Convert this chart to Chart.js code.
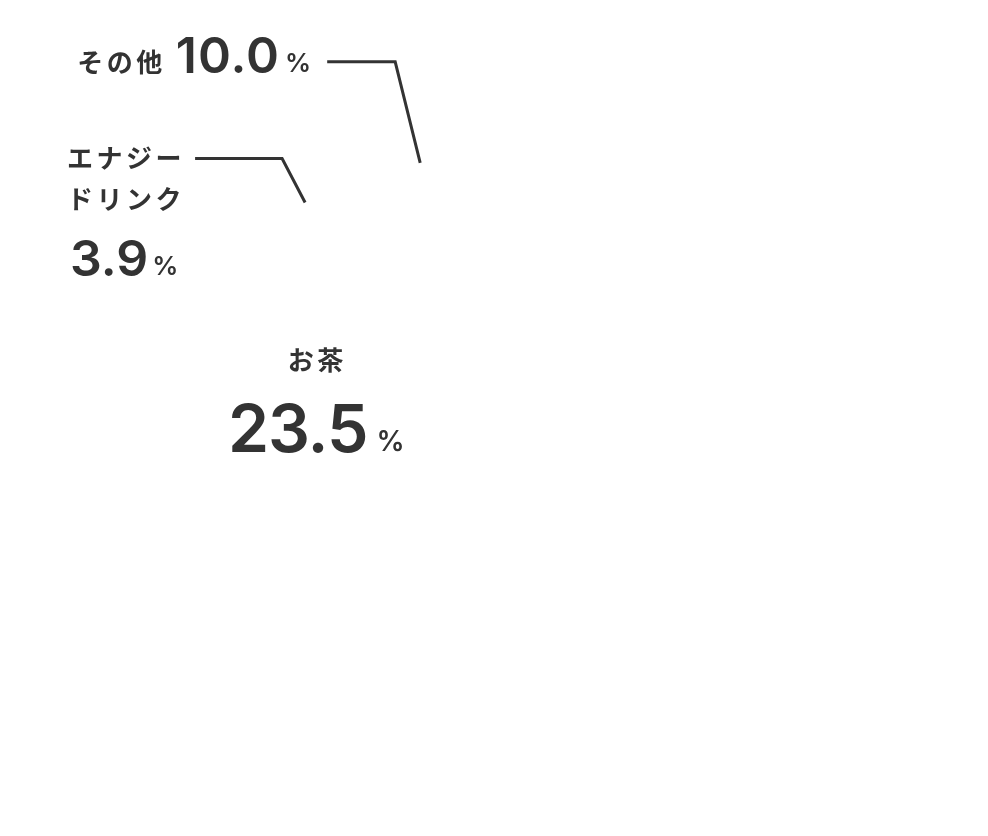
<!DOCTYPE html>
<html lang="ja">
<head>
<meta charset="utf-8">
<script src="https://cdn.jsdelivr.net/npm/chart.js@4.4.1/dist/chart.umd.min.js"></script>
<style>
  html, body { margin: 0; padding: 0; background: #fff; }
  #wrap { width: 988px; height: 836px; }
</style>
</head>
<body>
<div id="wrap"><canvas id="drinkChart" width="988" height="836"></canvas></div>
<script>
// 飲料の構成比 (%) - only the three callout slices are labelled in the picture
const categories = ['', 'お茶', 'エナジードリンク', 'その他']
const shares = [62.6, 23.5, 3.9, 10.0]
const labelLines = [[], ['お茶'], ['エナジー', 'ドリンク'], ['その他']]

const INK = '#333333'
const JP_FONT = '"Noto Sans CJK JP", "Noto Sans", sans-serif'
const NUM_FONT = 'Inter, "Noto Sans", sans-serif'
const JP_SPACING = 3.5

// callout layout per slice index (pixels, measured from the slice's outer mid point)
const callouts = {
  1: { kind: 'inside', at: 0.5, numSize: 66, pctSize: 28, gap: 8, spacing: -1 },
  2: { kind: 'stacked', elbow: [-23, -44], run: 87, numSize: 50, pctSize: 26, gap: 4, spacing: 0 },
  3: { kind: 'inline', elbow: [-25, -101], run: 68, numSize: 50, pctSize: 26, gap: 6, spacing: 1 },
}

function jpText(ctx, text, x, y, align) {
  ctx.font = `700 26px ${JP_FONT}`
  ctx.letterSpacing = JP_SPACING + 'px'
  ctx.textAlign = align
  ctx.textBaseline = 'middle'
  ctx.fillText(text, x, y)
  ctx.letterSpacing = '0px'
}

function jpWidth(ctx, text) {
  ctx.font = `700 26px ${JP_FONT}`
  ctx.letterSpacing = JP_SPACING + 'px'
  const w = ctx.measureText(text).width
  ctx.letterSpacing = '0px'
  return w
}

function valueWidth(ctx, num, c) {
  ctx.font = `600 ${c.numSize}px ${NUM_FONT}`
  ctx.letterSpacing = c.spacing + 'px'
  const w1 = ctx.measureText(num).width - c.spacing
  ctx.font = `600 ${c.pctSize}px ${NUM_FONT}`
  ctx.letterSpacing = '0px'
  const w2 = ctx.measureText('%').width
  return { w1, w2, total: w1 + c.gap + w2 }
}

// number + small "%" drawn from a left edge on one baseline
function drawValue(ctx, num, left, baseline, c) {
  const m = valueWidth(ctx, num, c)
  ctx.textAlign = 'left'
  ctx.textBaseline = 'alphabetic'
  ctx.font = `600 ${c.numSize}px ${NUM_FONT}`
  ctx.letterSpacing = c.spacing + 'px'
  ctx.fillText(num, left, baseline)
  ctx.letterSpacing = '0px'
  ctx.font = `600 ${c.pctSize}px ${NUM_FONT}`
  ctx.fillText('%', left + m.w1 + c.gap, baseline - 1)
  return m
}

const calloutPlugin = {
  id: 'callouts',
  afterDatasetsDraw(chart) {
    const { ctx } = chart
    const meta = chart.getDatasetMeta(0)
    ctx.save()
    ctx.fillStyle = INK
    ctx.strokeStyle = INK
    ctx.lineWidth = 3
    meta.data.forEach((arc, i) => {
      const c = callouts[i]
      if (!c) return
      const p = arc.getProps(['x', 'y', 'startAngle', 'endAngle', 'outerRadius'], true)
      const mid = (p.startAngle + p.endAngle) / 2
      const num = shares[i].toFixed(1)

      if (c.kind === 'inside') {
        const ax = p.x + Math.cos(mid) * p.outerRadius * c.at
        const ay = p.y + Math.sin(mid) * p.outerRadius * c.at
        jpText(ctx, labelLines[i][0], ax + 4, ay - 60, 'center')
        const m = valueWidth(ctx, num, c)
        drawValue(ctx, num, ax + 3 - m.total / 2, ay + 32, c)
        return
      }

      const px = p.x + Math.cos(mid) * p.outerRadius
      const py = p.y + Math.sin(mid) * p.outerRadius
      const ex = px + c.elbow[0]
      const ey = py + c.elbow[1]
      const lx = ex - c.run
      ctx.beginPath()
      ctx.moveTo(px, py)
      ctx.lineTo(ex, ey)
      ctx.lineTo(lx, ey)
      ctx.stroke()

      if (c.kind === 'inline') {
        const m = valueWidth(ctx, num, c)
        const left = lx - 16 - m.total
        drawValue(ctx, num, left, ey + 11, c)
        jpText(ctx, labelLines[i][0], left - 10, ey, 'right')
      } else {
        const left = lx - 10 - jpWidth(ctx, labelLines[i][0])
        labelLines[i].forEach((t, k) => jpText(ctx, t, left, ey + k * 41, 'left'))
        drawValue(ctx, num, left + 3, ey + 118, c)
      }
    })
    ctx.restore()
  },
}

new Chart(document.getElementById('drinkChart'), {
  type: 'pie',
  data: {
    labels: categories,
    datasets: [{
      data: shares,
      backgroundColor: 'rgba(255, 255, 255, 0)',
      borderWidth: 0,
      hoverOffset: 0,
    }],
  },
  options: {
    responsive: false,
    animation: false,
    rotation: 11.5,
    layout: { padding: { left: 171, top: 161, right: 255, bottom: 113 } },
    plugins: {
      legend: { display: false },
      tooltip: { enabled: false },
    },
  },
  plugins: [calloutPlugin],
})
</script>
</body>
</html>
